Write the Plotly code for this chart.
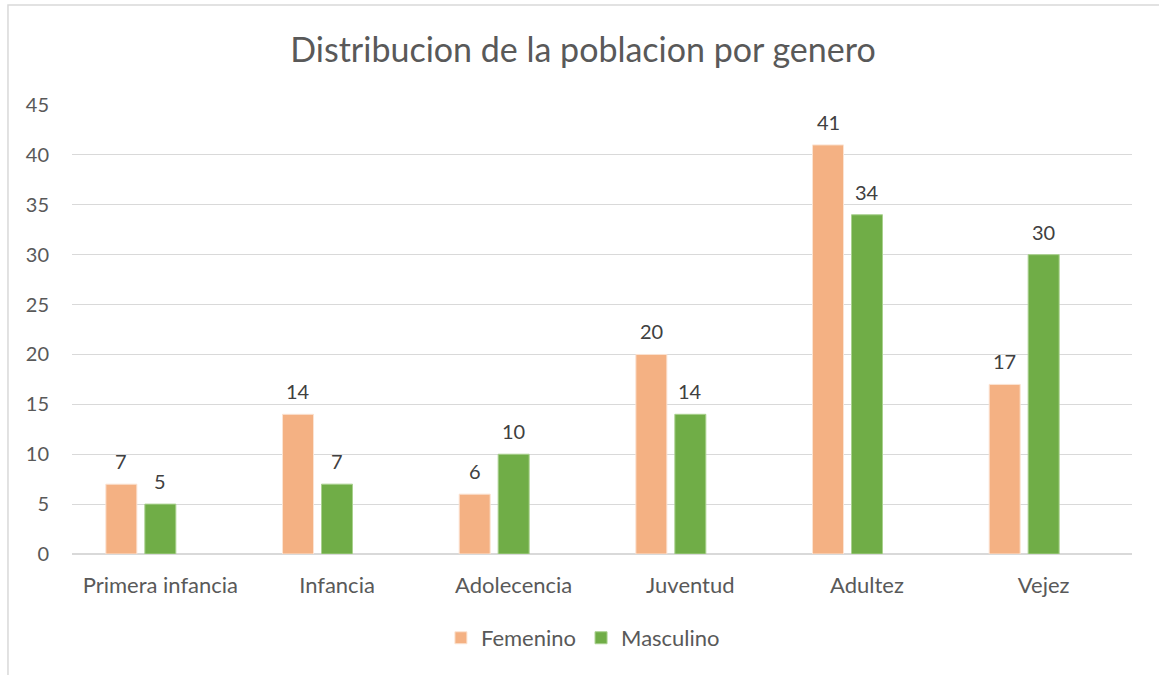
import plotly.graph_objects as go

categorias = ["Primera infancia", "Infancia", "Adolecencia", "Juventud", "Adultez", "Vejez"]
femenino = [7, 14, 6, 20, 41, 17]
masculino = [5, 7, 10, 14, 34, 30]
ticks_y = [0, 5, 10, 15, 20, 25, 30, 35, 40, 45]

col_fem = "#F4B183"
col_mas = "#70AD47"
gris_texto = "#595959"
fuente = "Lato"

bargap = 0.338
slot = (1 - bargap) / 3  # ancho de cada barra + hueco, en unidades de categoria

fig = go.Figure()
fig.add_trace(go.Bar(x=categorias, y=femenino, name="Femenino",
                     marker=dict(color=col_fem, line=dict(color="#FBE3D2", width=1))))
fig.add_trace(go.Bar(x=categorias, y=masculino, name="Masculino",
                     marker=dict(color=col_mas, line=dict(color="#A9D18E", width=1))))
# serie vacia (en el original hay un tercer hueco en cada grupo)
fig.add_trace(go.Bar(x=categorias, y=[None] * len(categorias), showlegend=False,
                     hoverinfo="skip"))

# etiquetas de datos sobre las barras
for serie, desplaz in [(femenino, -slot), (masculino, 0)]:
    for i, v in enumerate(serie):
        fig.add_annotation(x=i + desplaz, y=v, xref="x", yref="y", text=str(v),
                           showarrow=False, yshift=23, yanchor="middle",
                           font=dict(family=fuente, size=20, color="#404040"))

# marco del grafico
fig.add_shape(type="rect", xref="paper", yref="paper",
              x0=-0.0604, y0=-0.5, x1=1.2, y1=1.2227,
              line=dict(color="#D9D9D9", width=1.5), fillcolor="rgba(0,0,0,0)",
              layer="below")

fig.update_layout(
    width=1159, height=675,
    margin=dict(l=72, r=27, t=105, b=121),
    paper_bgcolor="white", plot_bgcolor="white",
    title=dict(text="Distribucion de la poblacion por genero", x=0.503, xanchor="center",
               y=0.926, yanchor="middle",
               font=dict(family=fuente, size=34, color=gris_texto)),
    barmode="group", bargap=bargap, bargroupgap=0.205,
    font=dict(family=fuente, color=gris_texto),
    legend=dict(orientation="h", x=0.482, xanchor="center", y=-0.187, yanchor="middle",
                font=dict(family=fuente, size=22, color=gris_texto),
                itemwidth=30, traceorder="normal"),
    xaxis=dict(showgrid=False, showline=False, ticks="", ticklabelstandoff=16,
               tickfont=dict(family=fuente, size=22, color=gris_texto)),
    yaxis=dict(range=[0, 45], tickvals=ticks_y, showgrid=True, gridcolor="#D9D9D9",
               gridwidth=1, zeroline=True, zerolinecolor="#D9D9D9", zerolinewidth=1.5,
               ticks="", ticklabelstandoff=22,
               tickfont=dict(family=fuente, size=20, color=gris_texto)),
)

fig.write_html("out.html", config={"displayModeBar": False},
               post_script="document.body.style.margin='0';")
